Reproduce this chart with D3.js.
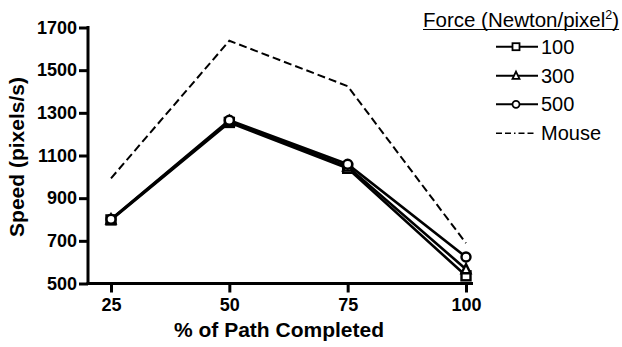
<!DOCTYPE html>
<html>
<head>
<meta charset="utf-8">
<script src="https://cdn.jsdelivr.net/npm/d3@7"></script>
<style>
  html, body { margin: 0; padding: 0; background: #fff; }
  svg { display: block; font-family: "Liberation Sans", Arial, Helvetica, sans-serif; }
</style>
</head>
<body>
<svg id="chart" width="622" height="347"></svg>
<script>
// Percent of path completed
const pathPercent = [25, 50, 75, 100];
// Speed (pixels/s) for each force level, and for the mouse
const force100 = [798, 1255, 1040, 536];
const force300 = [800, 1260, 1048, 567];
const force500 = [801, 1265, 1059, 624];
const mouse = [993, 1638, 1425, 689];
const yTicks = [500, 700, 900, 1100, 1300, 1500, 1700];
const legendTitle = "Force (Newton/pixel";
const seriesNames = ["100", "300", "500", "Mouse"];

const svg = d3.select("#chart");
const x = d3.scaleLinear().domain([25, 100]).range([111, 466]);
const y = d3.scaleLinear().domain([500, 1700]).range([283.5, 27.5]);

const axisW = 3;

// Y axis
const yAxis = svg.append("g").attr("transform", "translate(88,0)")
  .call(d3.axisLeft(y).tickValues(yTicks).tickSize(9).tickPadding(2).tickFormat(d3.format("d")));
yAxis.select(".domain").remove();
yAxis.selectAll(".tick line").attr("stroke", "#000").attr("stroke-width", axisW);
yAxis.selectAll(".tick text").attr("font-size", 18).attr("font-weight", "bold")
  .attr("font-family", "Liberation Sans, Arial, sans-serif").attr("fill", "#000");

// X axis
const xAxis = svg.append("g").attr("transform", "translate(0,283.5)")
  .call(d3.axisBottom(x).tickValues(pathPercent).tickSize(9).tickPadding(6).tickFormat(d3.format("d")));
xAxis.select(".domain").remove();
xAxis.selectAll(".tick line").attr("stroke", "#000").attr("stroke-width", axisW);
xAxis.selectAll(".tick text").attr("font-size", 18).attr("font-weight", "bold")
  .attr("font-family", "Liberation Sans, Arial, sans-serif").attr("fill", "#000");

// Axis lines
svg.append("line").attr("x1", 88).attr("x2", 88).attr("y1", y(1700) - 1.5).attr("y2", y(500) + 1.5)
  .attr("stroke", "#000").attr("stroke-width", axisW);
svg.append("line").attr("x1", 86.5).attr("x2", 473).attr("y1", y(500)).attr("y2", y(500))
  .attr("stroke", "#000").attr("stroke-width", axisW);

// Axis titles
svg.append("text").attr("x", 279).attr("y", 337).attr("text-anchor", "middle")
  .attr("font-size", 21).attr("font-weight", "bold").text("% of Path Completed");
svg.append("text").attr("transform", "translate(24,157) rotate(-90)").attr("text-anchor", "middle")
  .attr("font-size", 21).attr("font-weight", "bold").text("Speed (pixels/s)");

const line = d3.line().x((d, i) => x(pathPercent[i])).y(d => y(d));

// Mouse (dashed)
svg.append("path").datum(mouse).attr("d", line).attr("fill", "none")
  .attr("stroke", "#000").attr("stroke-width", 2).attr("stroke-dasharray", "8,4");

// Marker drawing
function marker(g, type, cx, cy, s, sw) {
  if (type === "square") {
    g.append("rect").attr("x", cx - s / 2).attr("y", cy - s / 2).attr("width", s).attr("height", s)
      .attr("fill", "#fff").attr("stroke", "#000").attr("stroke-width", sw);
  } else if (type === "triangle") {
    const h = s * 0.9;
    g.append("path").attr("d", `M${cx},${cy - h / 2 - 1}L${cx + s / 2},${cy + h / 2}L${cx - s / 2},${cy + h / 2}Z`)
      .attr("fill", "#fff").attr("stroke", "#000").attr("stroke-width", sw);
  } else {
    g.append("circle").attr("cx", cx).attr("cy", cy).attr("r", s / 2)
      .attr("fill", "#fff").attr("stroke", "#000").attr("stroke-width", sw);
  }
}

const forceSeries = [
  { values: force100, type: "square" },
  { values: force300, type: "triangle" },
  { values: force500, type: "circle" }
];

forceSeries.forEach(s => {
  svg.append("path").datum(s.values).attr("d", line).attr("fill", "none")
    .attr("stroke", "#000").attr("stroke-width", 2.6);
});
forceSeries.forEach(s => {
  const g = svg.append("g");
  s.values.forEach((v, i) => marker(g, s.type, x(pathPercent[i]), y(v), 9, 2.4));
});

// Legend
const lg = svg.append("g");
const title = lg.append("text").attr("x", 423).attr("y", 27).attr("font-size", 20.5);
title.append("tspan").text(legendTitle);
title.append("tspan").attr("font-size", 12.5).attr("dy", -8).text("2");
title.append("tspan").attr("dy", 8).text(")");
const tb = title.node().getBBox();
lg.append("line").attr("x1", tb.x).attr("x2", tb.x + tb.width).attr("y1", 29.5).attr("y2", 29.5)
  .attr("stroke", "#000").attr("stroke-width", 1.2);

const rowY = [46.7, 75.7, 104.3, 133.3];
const types = ["square", "triangle", "circle", null];
seriesNames.forEach((name, i) => {
  const yy = rowY[i];
  const ln = lg.append("line").attr("x1", 496).attr("x2", 538).attr("y1", yy).attr("y2", yy)
    .attr("stroke", "#000").attr("stroke-width", 2);
  if (types[i]) {
    marker(lg, types[i], 516, yy, 7, 1.8);
  } else {
    ln.attr("stroke-width", 1.6).attr("stroke-dasharray", "6,3,6,3,1.5,3,6,3,6");
  }
  lg.append("text").attr("x", 541).attr("y", yy + 7).attr("font-size", 20).text(name);
});
</script>
</body>
</html>
